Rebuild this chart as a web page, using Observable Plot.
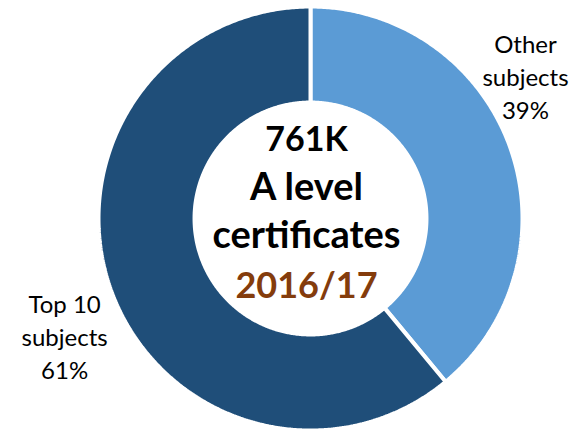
<!DOCTYPE html>
<html>
<head>
<meta charset="utf-8">
<script src="https://cdn.jsdelivr.net/npm/d3@7"></script>
<script src="https://cdn.jsdelivr.net/npm/@observablehq/plot@0.6"></script>
<style>
  html, body { margin: 0; padding: 0; background: #ffffff; }
  #chart svg { display: block; }
</style>
</head>
<body>
<div id="chart"></div>
<script>
// ---- data ----
const slices = ["Other subjects", "Top 10 subjects"];
const shares = [39, 61];
const sliceLabels = ["Other\nsubjects\n39%", "Top 10\nsubjects\n61%"];
const sliceColors = ["#5B9BD5", "#1F4E79"];
const centerLines = ["761K", "A level", "certificates"];
const yearLabel = "2016/17";

// ---- geometry (derived from the data) ----
const innerRatio = 0.547;
const pie = d3.pie().sort(null)(shares);
const ring = [];
pie.forEach((p, i) => {
  const n = Math.max(2, Math.ceil((p.endAngle - p.startAngle) / (Math.PI / 360)));
  const pts = [];
  for (let k = 0; k <= n; k++) {
    const a = p.startAngle + (p.endAngle - p.startAngle) * k / n;
    pts.push({slice: slices[i], x: Math.sin(a), y: Math.cos(a)});
  }
  for (let k = n; k >= 0; k--) {
    const a = p.startAngle + (p.endAngle - p.startAngle) * k / n;
    pts.push({slice: slices[i], x: innerRatio * Math.sin(a), y: innerRatio * Math.cos(a)});
  }
  pts.push({...pts[0]});
  ring.push(...pts);
});

const font = "Lato, 'Open Sans', sans-serif";
const centerText = (txt, size, dy, color) =>
  Plot.text([txt], {x: () => 0, y: () => 0, text: d => d, dx: -4, dy, fontSize: size, fontWeight: "bold", fill: color, fontFamily: font});

const chart = Plot.plot({
  width: 578,
  height: 429,
  margin: 0,
  style: {background: "#ffffff"},
  x: {domain: [-1, 1], range: [98, 522], axis: null},
  y: {domain: [-1, 1], range: [430, 6], axis: null},
  color: {domain: slices, range: sliceColors},
  marks: [
    Plot.line(ring, {x: "x", y: "y", z: "slice", fill: "slice", stroke: "#ffffff", strokeWidth: 4, strokeLinejoin: "miter"}),
    centerText(centerLines[0], 34, -78, "#000000"),
    centerText(centerLines[1], 38, -31, "#000000"),
    centerText(centerLines[2], 38, 17, "#000000"),
    centerText(yearLabel, 36, 67.5, "#843C0C"),
    Plot.text([sliceLabels[0]], {x: () => 1.014, y: () => 0.673, text: d => d, fontSize: 24, lineHeight: 1.375, fill: "#000000", fontFamily: font}),
    Plot.text([sliceLabels[1]], {x: () => -1.16, y: () => -0.553, text: d => d, fontSize: 24, lineHeight: 1.375, fill: "#000000", fontFamily: font})
  ]
});
document.getElementById("chart").appendChild(chart);
</script>
</body>
</html>
